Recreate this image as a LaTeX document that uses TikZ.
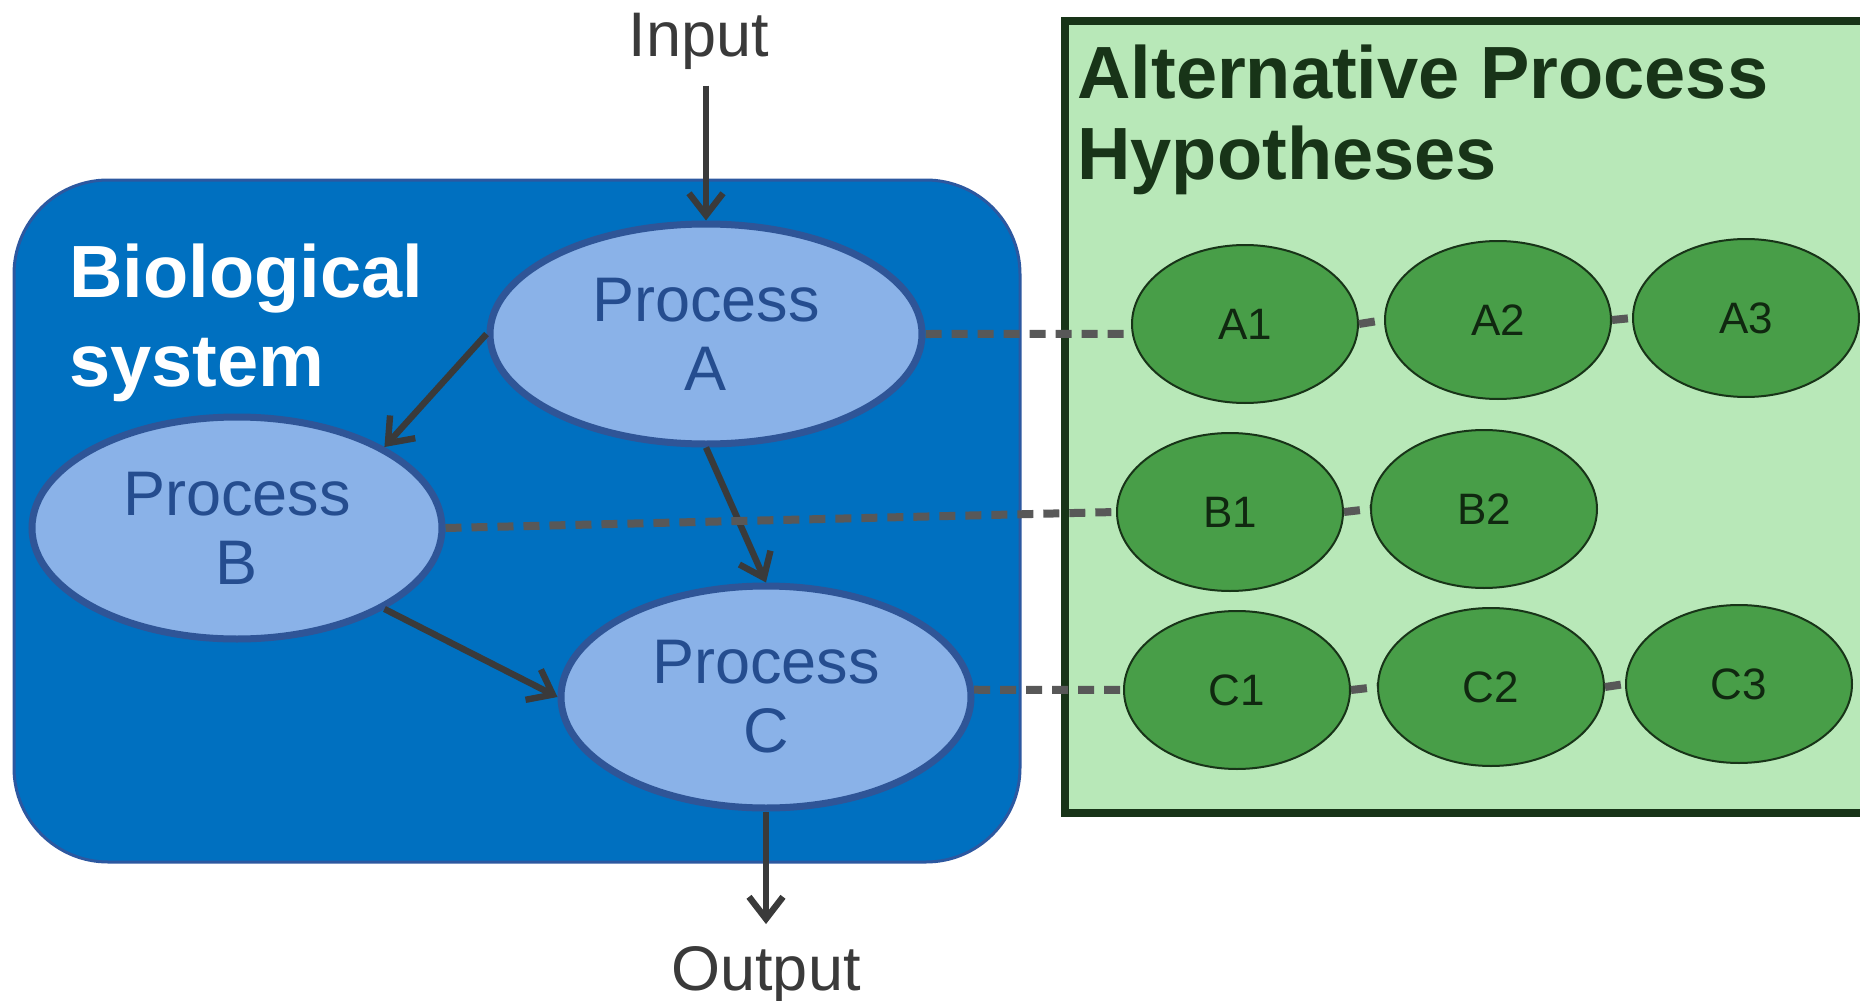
\documentclass[tikz,border=0pt]{standalone}
\usepackage{fontspec}
\setmainfont{Liberation Sans}
\usepackage{tikz}
\usetikzlibrary{arrows.meta,shapes.geometric}
\definecolor{ink}{RGB}{58,58,58}
\definecolor{dashgray}{RGB}{88,88,88}
\definecolor{biofill}{RGB}{0,112,192}
\definecolor{biostroke}{RGB}{44,88,160}
\definecolor{procfill}{RGB}{138,178,232}
\definecolor{procstroke}{RGB}{47,85,151}
\definecolor{proctext}{RGB}{37,77,143}
\definecolor{altfill}{RGB}{184,232,184}
\definecolor{altstroke}{RGB}{24,52,24}
\definecolor{hypfill}{RGB}{72,158,72}
\definecolor{hyptext}{RGB}{16,40,16}
\tikzset{
  biobox/.style={
    draw=biostroke, line width=1.5pt, fill=biofill, rounded corners=47pt,
    minimum width=503pt, minimum height=341pt, inner sep=0pt,
  },
  altbox/.style={
    draw=altstroke, line width=4pt, fill=altfill,
    minimum width=405pt, minimum height=396pt, inner sep=0pt,
  },
  boxtitle/.style={
    anchor=north west, inner sep=0pt, align=left,
    font=\fontsize{37}{#1}\selectfont\bfseries,
  },
  proc/.style={
    ellipse, draw=procstroke, line width=3.5pt, fill=procfill,
    minimum width=205pt, minimum height=111pt, inner sep=0pt,
    align=center, font=\fontsize{31.5}{34.5}\selectfont, text=proctext,
  },
  hyp/.style={
    ellipse, draw=altstroke, line width=1pt, fill=hypfill,
    minimum width=113pt, minimum height=79pt, inner sep=0pt,
    font=\fontsize{22}{26}\selectfont, text=hyptext,
  },
  io/.style={font=\fontsize{31.5}{34.5}\selectfont, text=ink, inner sep=0pt},
  arr/.style={-{Straight Barb[length=11pt,width=17pt]}, line width=3.2pt, draw=ink},
  link/.style={draw=dashgray, line width=4pt, dash pattern=on 8pt off 5pt},
}

\begin{document}
\begin{tikzpicture}[x=0.5pt,y=-0.5pt]
  \useasboundingbox (0,0) rectangle (1860,1001);

  % Boxes
  \node[biobox] (bio) at (517,521) {};
  \node[altbox] (alt) at (1470,417) {};
  \node[boxtitle=44.5, text=white] (biotitle) at (69,243) {Biological\\system};
  \node[boxtitle=40.5, text=altstroke] (alttitle) at (1077,44) {Alternative Process\\Hypotheses};

  % Processes
  \node[proc, minimum width=216pt, minimum height=110pt] (pA) at (706,334) {Process\\A};
  \node[proc] (pB) at (237,528) {Process\\B};
  \node[proc] (pC) at (766,697) {Process\\C};

  % Hypotheses
  \node[hyp] (a1) at (1245,324) {A1};
  \node[hyp] (a2) at (1498,320) {A2};
  \node[hyp] (a3) at (1746,318) {A3};
  \node[hyp] (b1) at (1230,512) {B1};
  \node[hyp] (b2) at (1484,509) {B2};
  \node[hyp] (c1) at (1237,690) {C1};
  \node[hyp] (c2) at (1491,687) {C2};
  \node[hyp] (c3) at (1739,684) {C3};

  % Input / output
  \node[io] (in) at (699,41) {Input};
  \node[io] (out) at (766,975) {Output};

  % Flow
  \draw[arr] (in.south -| pA.north) ++(0,16) -- (pA.north);
  \draw[arr] (pA.west) -- (pB.north east);
  \draw[arr] (pA.south) -- (pC.north);
  \draw[arr] (pB.south east) -- (pC.west);
  \draw[arr] (pC.south) -- ([yshift=11pt]out.north);

  % Links to hypotheses
  \draw[link] (pA.east) -- (a1.185);
  \draw[link] (a1.east) -- (a2.west);
  \draw[link] (a2.east) -- (a3.west);
  \draw[link] (pB.east) -- (b1.west);
  \draw[link] (b1.east) -- (b2.west);
  \draw[link] (pC.2) -- (c1.west);
  \draw[link] (c1.east) -- (c2.west);
  \draw[link] (c2.east) -- (c3.west);
\end{tikzpicture}
\end{document}
